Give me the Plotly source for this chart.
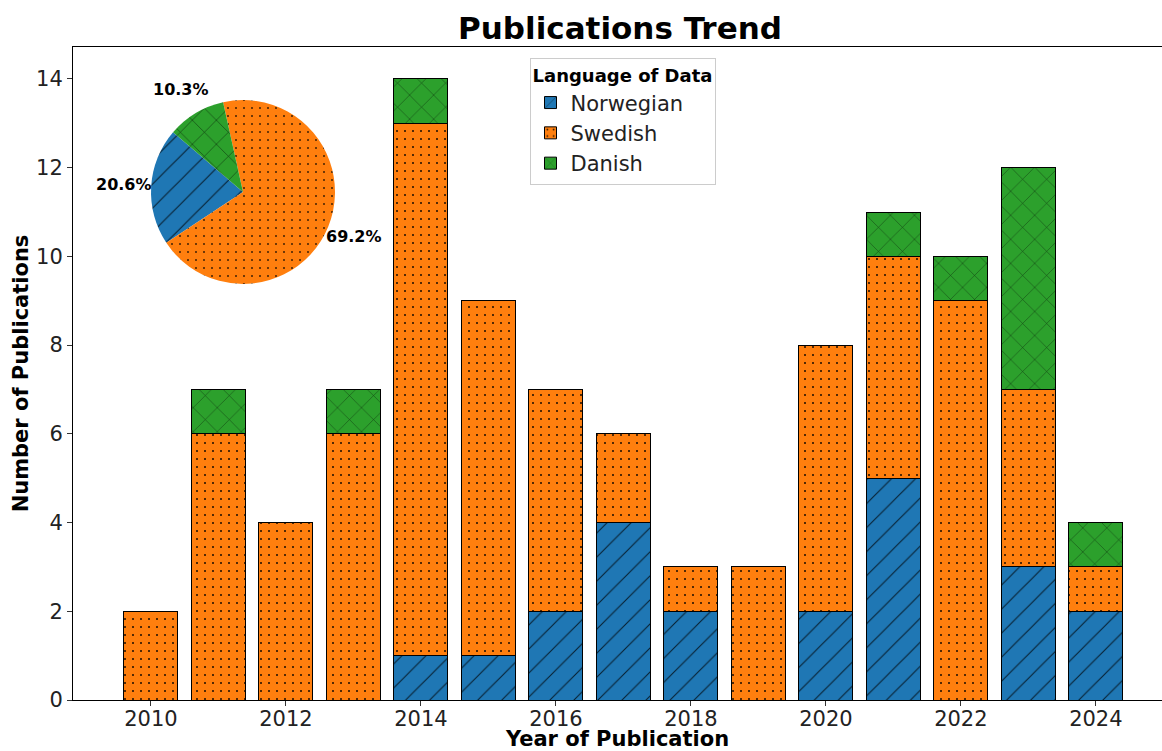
import math
import plotly.graph_objects as go

years = list(range(2010, 2025))
norwegian = [0, 0, 0, 0, 1, 1, 2, 4, 2, 0, 2, 5, 0, 3, 2]
swedish = [2, 6, 4, 6, 12, 8, 5, 2, 1, 3, 6, 5, 9, 4, 1]
danish = [0, 1, 0, 1, 1, 0, 0, 0, 0, 0, 0, 1, 1, 5, 1]
languages = ["Norwegian", "Swedish", "Danish"]
colors = ["#1f77b4", "#ff7f0e", "#2ca02c"]
x_ticks = list(range(2010, 2025, 2))
y_ticks = list(range(0, 15, 2))

W, H = 1162, 751
ML, MR, MT, MB = 73, 0, 47, 51
PW, PH = W - ML - MR, H - MT - MB

shapes_ = ["/", ".", "x"]
sizes_ = [17, 8, 17]
solid_ = [0.06, 0.05, 0.06]
fgop_ = [0.75, 0.9, 0.6]

fig = go.Figure()
for i, (name, vals) in enumerate(zip(languages, [norwegian, swedish, danish])):
    fig.add_trace(go.Bar(
        x=years, y=vals, name=name, width=0.8,
        marker=dict(color=colors[i], line=dict(color="black", width=1),
                    pattern=dict(shape=shapes_[i], fgcolor="black", fgopacity=fgop_[i],
                                 size=sizes_[i], solidity=solid_[i])),
    ))

totals = [sum(norwegian), sum(swedish), sum(danish)]
grand = sum(totals)

# pie inset (pixel geometry)
cx, cy, r = 243, 192, 92
dom_x = [(cx - r - ML) / PW, (cx + r - ML) / PW]
dom_y = [1 - (cy + r - MT) / PH, 1 - (cy - r - MT) / PH]
start_angle = 139.5  # degrees, math convention, counterclockwise order

fig.add_trace(go.Pie(
    labels=languages, values=totals, sort=False, direction="counterclockwise",
    rotation=90 - (start_angle + 360 * totals[0] / grand),
    marker=dict(colors=colors, line=dict(width=0), pattern=dict(
        shape=shapes_, fgcolor="black", fgopacity=0.75, bgcolor=colors,
        fillmode="overlay", size=sizes_, solidity=solid_)),
    textinfo="none", hoverinfo="label+percent", showlegend=False,
    domain=dict(x=dom_x, y=dom_y),
))

ang = start_angle
for t in totals:
    span = 360 * t / grand
    mid = math.radians(ang + span / 2)
    ang += span
    px = cx + 1.3 * r * math.cos(mid)
    py = cy - 1.3 * r * math.sin(mid)
    fig.add_annotation(
        x=(px - ML) / PW, y=1 - (py - MT) / PH, xref="paper", yref="paper",
        text=f"<b>{100 * t / grand:.1f}%</b>", showarrow=False,
        font=dict(size=16, color="black"), xanchor="center", yanchor="middle",
    )

fig.update_layout(
    width=W, height=H, barmode="stack",
    margin=dict(l=ML, r=MR, t=MT, b=MB, autoexpand=False),
    paper_bgcolor="white", plot_bgcolor="white",
    font=dict(family="DejaVu Sans", color="#222"),
    title=dict(text="<b>Publications Trend</b>", x=620 / W, xref="container", xanchor="center",
               y=1 - 28 / H, yref="container", yanchor="middle",
               font=dict(size=31, color="black")),
    legend=dict(
        x=(622.5 - ML) / PW, xanchor="center", y=(700 - 58) / PH, yanchor="top",
        bordercolor="#cccccc", borderwidth=1, bgcolor="rgba(255,255,255,0.8)",
        font=dict(size=21, color="#222"),
        title=dict(text="<b>Language of Data</b>", side="top center", font=dict(size=18, color="black")),
        traceorder="normal",
    ),
    xaxis=dict(
        range=[2008.845, 2024.98], tickvals=x_ticks, ticktext=[str(v) for v in x_ticks],
        showline=True, linecolor="black", linewidth=1, mirror=True,
        ticks="outside", ticklen=5, tickcolor="#333", showgrid=False, zeroline=False,
        tickfont=dict(size=21), automargin=False, ticklabelstandoff=-5,
        title=dict(text="<b>Year of Publication</b>", font=dict(size=21, color="black"), standoff=3),
    ),
    yaxis=dict(
        range=[0, 14.72], tickvals=y_ticks,
        showline=True, linecolor="black", linewidth=1,
        ticks="outside", ticklen=5, tickcolor="#333", showgrid=False, zeroline=False,
        tickfont=dict(size=21), automargin=False,
        title=dict(text="<b>Number of Publications</b>", font=dict(size=21, color="black"), standoff=1),
    ),
)

fig.write_html("out.html", config={"displayModeBar": False},
               post_script="document.body.style.margin='0';document.body.style.overflow='hidden';")
